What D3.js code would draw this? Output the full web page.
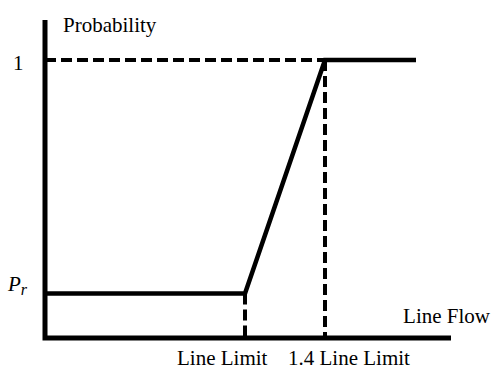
<!DOCTYPE html>
<html>
<head>
<meta charset="utf-8">
<script src="https://cdn.jsdelivr.net/npm/d3@7"></script>
<style>
  body { margin: 0; background: #fff; }
</style>
</head>
<body>
<div id="chart"></div>
<script>
// curve points (flow in units of line limit, probability)
const flow = [0, 1, 1.4, 1.855];
const prob = [0.16, 0.16, 1, 1];
const xMarks = [1, 1.4];
const xMarkLabels = ["Line Limit", "1.4 Line Limit"];
const prValue = 0.16;

const width = 492, height = 369;
const font = "Liberation Serif";

const svg = d3.select("#chart")
    .append("svg")
    .attr("width", width)
    .attr("height", height);

const x = d3.scaleLinear().domain([0, 2.03]).range([45, 451]);
const y = d3.scaleLinear().domain([0, 1]).range([338, 60]);

const pts = flow.map((f, i) => [f, prob[i]]);

// dashed guides
svg.append("line")
    .attr("x1", x(0)).attr("x2", x(1.4))
    .attr("y1", y(1)).attr("y2", y(1))
    .attr("stroke", "#000").attr("stroke-width", 4)
    .attr("stroke-dasharray", "11,5");

svg.selectAll(".guide")
    .data(xMarks)
    .join("line")
    .attr("class", "guide")
    .attr("x1", d => x(d)).attr("x2", d => x(d))
    .attr("y1", d => y(prob[flow.indexOf(d)]))
    .attr("y2", y(0))
    .attr("stroke", "#000").attr("stroke-width", 4)
    .attr("stroke-dasharray", "11,5");

// curve
svg.append("path")
    .datum(pts)
    .attr("d", d3.line().x(d => x(d[0])).y(d => y(d[1])))
    .attr("fill", "none")
    .attr("stroke", "#000")
    .attr("stroke-width", 4.5)
    .attr("stroke-linejoin", "miter");

// axes
svg.append("path")
    .attr("d", `M${x(0)},${y(1.144)}V${y(0)}H${x(2.03)}`)
    .attr("fill", "none")
    .attr("stroke", "#000")
    .attr("stroke-width", 5);

// labels
const fs = 21;
function label(tx, ty, str) {
    return svg.append("text")
        .attr("x", tx).attr("y", ty)
        .attr("font-family", font)
        .attr("font-size", fs)
        .text(str);
}
label(63, 32, "Probability");
label(13, y(1) + 10, "1");

const pr = label(8, y(prValue) - 3, null).attr("font-style", "italic");
pr.append("tspan").text("P");
pr.append("tspan").attr("font-size", 16).attr("dy", 4).text("r");

label(490, 323, "Line Flow").attr("text-anchor", "end");

svg.selectAll(".xlab")
    .data(xMarks)
    .join("text")
    .attr("class", "xlab")
    .attr("x", (d, i) => [177, 288][i])
    .attr("y", 365)
    .attr("font-family", font)
    .attr("font-size", fs)
    .text((d, i) => xMarkLabels[i]);
</script>
</body>
</html>
